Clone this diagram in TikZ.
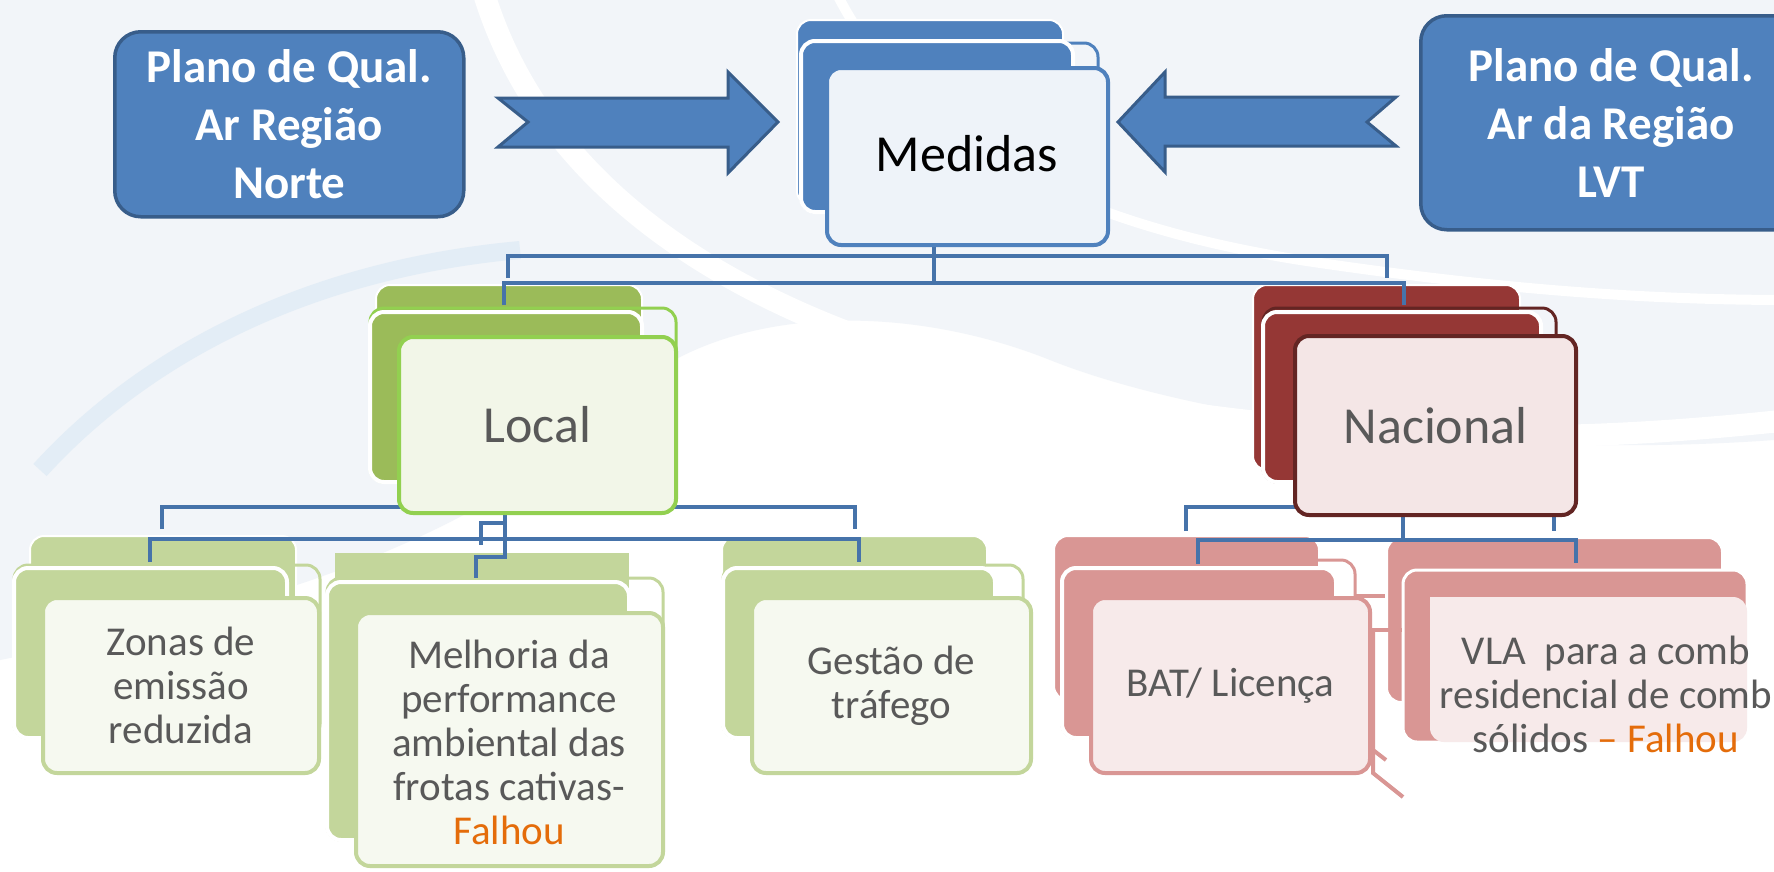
\documentclass[tikz,border=0pt]{standalone}
\usepackage{fontspec}
\setmainfont{Carlito}
\definecolor{blueF}{HTML}{4F81BD}
\definecolor{blueD}{HTML}{385D8A}
\definecolor{connC}{HTML}{4673AA}
\definecolor{greenD}{HTML}{9BBB59}
\definecolor{greenB}{HTML}{92D050}
\definecolor{greenL}{HTML}{F2F6E8}
\definecolor{redD}{HTML}{953735}
\definecolor{redB}{HTML}{632523}
\definecolor{redL}{HTML}{F4E6E6}
\definecolor{gtwo}{HTML}{C3D69B}
\definecolor{gtwoL}{HTML}{F6F9F0}
\definecolor{pinkD}{HTML}{D99694}
\definecolor{pinkL}{HTML}{F7EAEA}
\definecolor{medL}{HTML}{EEF3F9}
\definecolor{txtG}{HTML}{595959}
\definecolor{orgC}{HTML}{E46C0A}
\definecolor{bgA}{HTML}{F2F5F9}
\definecolor{bgB}{HTML}{E3EDF6}
\newcommand{\lyr}[7]{\node[#6, anchor=north west, inner sep=0pt, outer sep=0pt,
  minimum width={(#4-#2)*1pt}, minimum height={(#5-#3)*1pt}] (#1) at (#2,#3) {#7};}
\tikzset{
  rc/.style={rounded corners=14pt},
  plano/.style={rectangle, rounded corners=26pt, fill=blueF, draw=blueD, line width=3.5pt,
    text=white, align=center, font=\fontsize{47}{58}\selectfont\bfseries},
  blockarrow/.style={fill=blueF, draw=blueD, line width=3pt, line join=miter},
  conn/.style={draw=connC, line width=4pt},
  pinkline/.style={draw=pinkD, line width=4pt},
  back/.style={rectangle, rc, fill=#1, draw=white, line width=2pt},
  echo/.style={rectangle, rc, draw=#1, line width=3pt},
  mid/.style={rectangle, rc, fill=#1, draw=white, line width=4pt},
  front/.style 2 args={rectangle, rc, fill=#1, draw=#2, line width=4pt, align=center},
  bigT/.style={font=\fontsize{52}{60}\selectfont, text=txtG},
  childT/.style={font=\fontsize{41}{44}\selectfont, text=txtG},
}
\begin{document}
\begin{tikzpicture}[x=1pt,y=-1pt]
\useasboundingbox (0,0) rectangle (1774,871);
\clip (0,0) rectangle (1774,871);
% background
\fill[white] (0,0) rectangle (1774,871);
\fill[bgA] (0,0) -- (1774,0) -- (1774,440) .. controls (1500,460) and (1200,420) .. (1050,360)
  .. controls (900,300) and (700,300) .. (600,420) .. controls (450,560) and (200,620) .. (0,660) -- cycle;
\draw[white, line width=22pt] (480,-20) .. controls (540,200) and (760,340) .. (1100,400)
  .. controls (1400,450) and (1600,440) .. (1790,420);
\draw[white, line width=10pt] (830,-20) .. controls (900,130) and (1050,220) .. (1300,260)
  .. controls (1500,290) and (1650,300) .. (1790,300);
\draw[bgB, line width=18pt] (40,470) .. controls (140,360) and (300,270) .. (520,250);

% source boxes and block arrows
\node[plano, anchor=north west, minimum width=349pt, minimum height=185pt] (pN) at (113,30)
  {Plano de Qual.\\Ar Região\\Norte};
\node[plano, anchor=north west, minimum width=381pt, minimum height=214pt] (pL) at (1419,14)
  {Plano de Qual.\\Ar da Região\\LVT};
\filldraw[blockarrow] (498,98) -- (728,98) -- (728,72) -- (778,122) -- (728,173) -- (728,147)
  -- (498,147) -- (528,122) -- cycle;
\filldraw[blockarrow] (1396,97) -- (1165,97) -- (1165,72) -- (1118,122) -- (1165,172) -- (1165,146)
  -- (1396,146) -- (1367,122) -- cycle;

% child stacks
\lyr{zA}{30}{536}{296}{700}{back=gtwo}{}
\lyr{zE}{14}{565}{320}{738}{echo=gtwo}{}
\lyr{zB}{14}{568}{287}{738}{mid=gtwo}{}
\lyr{zF}{43}{598}{319}{773}{front={gtwoL}{gtwo}}{}
\node[childT, align=center] (zT) at (zF.center) {Zonas de\\emissão\\reduzida};

\lyr{mA}{335}{553}{629}{720}{rectangle, fill=gtwo}{}
\lyr{mE}{327}{578}{663}{840}{echo=gtwo}{}
\lyr{mB}{327}{582}{629}{840}{mid=gtwo}{}
\lyr{mF}{356}{613}{663}{866}{front={gtwoL}{gtwo}}{}
\node[childT, align=center] (mT) at (509,742) {Melhoria da\\performance\\ambiental das\\frotas cativas-\\\textcolor{orgC}{Falhou}};

\lyr{gA}{722}{536}{987}{700}{back=gtwo}{}
\lyr{gE}{723}{565}{1023}{738}{echo=gtwo}{}
\lyr{gB}{723}{568}{995}{738}{mid=gtwo}{}
\lyr{gF}{752}{598}{1031}{773}{front={gtwoL}{gtwo}}{}
\node[childT, align=center] (gT) at (gF.center) {Gestão de\\tráfego};

\lyr{bA}{1054}{536}{1319}{700}{back=pinkD}{}
\lyr{bE}{1062}{560}{1355}{738}{echo=pinkD}{}
\lyr{bB}{1062}{568}{1336}{738}{mid=pinkD}{}
\lyr{bF}{1091}{598}{1370}{773}{front={pinkL}{pinkD}}{}
\node[childT] (bT) at (bF.center) {BAT/ Licença};

\lyr{vA}{1387}{538}{1722}{702}{back=pinkD}{}
\lyr{vB}{1403}{570}{1747}{742}{rectangle, rc, fill=pinkD, draw=white, line width=3pt}{}
\fill[pinkL, rounded corners=14pt] (1430,597) -- (1430,742) -- (1747,742) -- (1747,597) [sharp corners] -- cycle;
\node[childT, align=center] (vT) at (1606,694) {VLA\ \ para a comb\\residencial de comb\\sólidos \textcolor{orgC}{– Falhou}};

% pink artefact lines
\coordinate (pk1) at (1355,596); \coordinate (pk2) at (1385,596);
\coordinate (pk3) at (1370,630); \coordinate (pk4) at (1402,630);
\coordinate (pk5) at (1373,630); \coordinate (pk6) at (1373,773); \coordinate (pk7) at (1403,797);
\coordinate (pk8) at (1373,750); \coordinate (pk9) at (1386,760);
\draw[pinkline] (pk1) -- (pk2);
\draw[pinkline] (pk3) -- (pk4);
\draw[pinkline] (pk5) -- (pk6) -- (pk7);
\draw[pinkline] (pk8) -- (pk9);

% level-2 connectors
\coordinate (lS) at (505,513);
\coordinate (zDa) at (162,529); \coordinate (gDa) at (855,529);
\coordinate (zDb) at (150,562); \coordinate (gDb) at (859,562);
\coordinate (mD) at (476,578);
\draw[conn] (zDa) -- ++(0,-22) -| (gDa);
\draw[conn] (zDb) -- ++(0,-23) -| (gDb);
\draw[conn] (lS) -- ++(0,44) -| (mD);
\draw[conn] (505,523) -| (481,545);

\coordinate (nS) at (1403,515);
\coordinate (bDa) at (1186,531); \coordinate (vDa) at (1554,531);
\coordinate (bDb) at (1198,564); \coordinate (vDb) at (1576,563);
\draw[conn] (bDa) -- ++(0,-24) -| (vDa);
\draw[conn] (bDb) -- ++(0,-24) -| (vDb);
\draw[conn] (nS) -- ++(0,25);

% level-1 stacks
\lyr{lA}{376}{285}{642}{470}{back=greenD}{}
\lyr{lE}{370}{308}{676}{482}{echo=greenB}{}
\lyr{lB}{370}{312}{642}{482}{mid=greenD}{}
\lyr{lF}{399}{337}{676}{513}{front={greenL}{greenB}}{}
\node[bigT] (lT) at (lF.center) {Local};

\lyr{nA}{1253}{285}{1520}{470}{back=redD}{}
\lyr{nE}{1263}{308}{1556}{482}{echo=redB}{}
\lyr{nB}{1263}{312}{1541}{482}{mid=redD}{}
\lyr{nF}{1295}{336}{1576}{515}{front={redL}{redB}}{}
\node[bigT] (nT) at (nF.center) {Nacional};

% top connectors
\coordinate (mS) at (934,245);
\coordinate (lDa) at (508,278); \coordinate (nDa) at (1387,278);
\coordinate (lDb) at (504,305); \coordinate (nDb) at (1404,305);
\draw[conn] (lDa) -- ++(0,-22) -| (nDa);
\draw[conn] (lDb) -- ++(0,-22) -| (nDb);
\draw[conn] (mS) -- ++(0,38);

% top stack
\lyr{tA}{797}{20}{1063}{205}{back=blueF}{}
\lyr{tE}{801}{43}{1098}{212}{echo=blueF}{}
\lyr{tB}{801}{41}{1073}{212}{mid=blueF}{}
\lyr{tF}{827}{68}{1108}{245}{front={medL}{blueF}}{}
\node[font=\fontsize{52}{60}\selectfont, text=black] (tT) at (967,154) {Medidas};
\end{tikzpicture}
\end{document}
